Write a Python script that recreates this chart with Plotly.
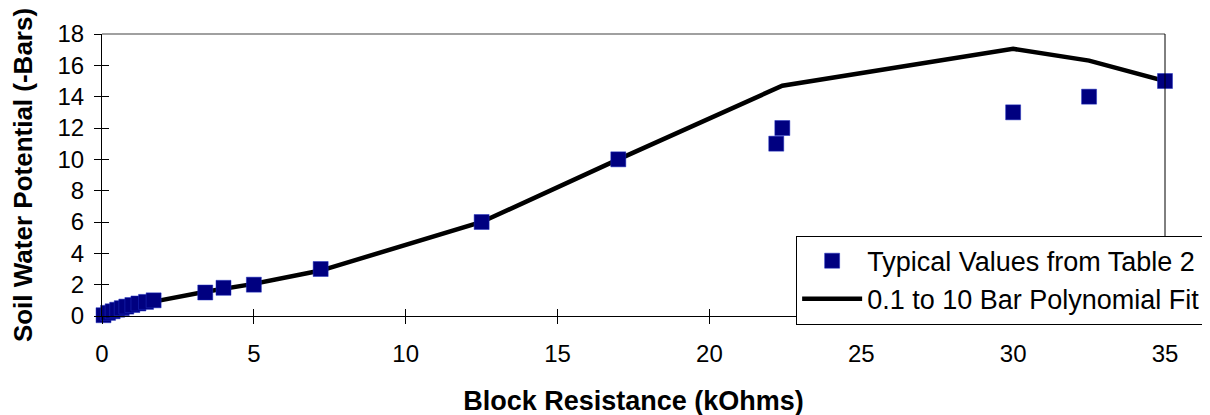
import plotly.graph_objects as go

# Data
pts_x = [0.05, 0.2, 0.35, 0.5, 0.65, 0.8, 1.0, 1.2, 1.45, 1.7, 3.4, 4.0, 5.0, 7.2, 12.5, 17.0, 22.2, 22.4, 30.0, 32.5, 35.0]
pts_y = [0.05, 0.2, 0.3, 0.4, 0.5, 0.6, 0.7, 0.8, 0.9, 1.0, 1.5, 1.8, 2.0, 3.0, 6.0, 10.0, 11.0, 12.0, 13.0, 14.0, 15.0]

fit_x = [0.05, 0.2, 0.35, 0.5, 0.65, 0.8, 1.0, 1.2, 1.45, 1.7, 3.4, 4.0, 5.0, 7.2, 12.5, 17.0, 22.2, 22.4, 30.0, 32.5, 35.0]
fit_y = [0.12, 0.22, 0.3, 0.38, 0.46, 0.54, 0.63, 0.72, 0.82, 0.92, 1.55, 1.75, 2.05, 2.9, 6.0, 10.0, 14.5, 14.7, 17.05, 16.3, 15.0]

x_ticks = [0, 5, 10, 15, 20, 25, 30, 35]
y_ticks = [0, 2, 4, 6, 8, 10, 12, 14, 16, 18]

FONT = "Liberation Sans, Arial, sans-serif"

fig = go.Figure()
fig.add_trace(go.Scatter(
    x=fit_x, y=fit_y, mode="lines", name="0.1 to 10 Bar Polynomial Fit",
    line=dict(color="black", width=4.5), showlegend=False, cliponaxis=False))
fig.add_trace(go.Scatter(
    x=pts_x, y=pts_y, mode="markers", name="Typical Values from Table 2",
    cliponaxis=False,
    marker=dict(symbol="square", size=15, color="#000080",
                line=dict(color="#2030c0", width=0.5))))
# legend entry for the fit line (listed after the markers)
fig.add_trace(go.Scatter(
    x=[None], y=[None], mode="lines", name="0.1 to 10 Bar Polynomial Fit",
    line=dict(color="black", width=4.5)))
# invisible trace that carries the inner-tick overlay axes
fig.add_trace(go.Scatter(x=[0], y=[0], xaxis="x2", yaxis="y2", mode="markers",
                         marker=dict(opacity=0), showlegend=False, hoverinfo="skip"))

axis_common = dict(showgrid=False, zeroline=False, ticklen=7, tickwidth=1,
                   tickcolor="black")
fig.update_layout(
    width=1210, height=415,
    margin=dict(l=92, r=50, t=23, b=107),
    paper_bgcolor="white", plot_bgcolor="white",
    font=dict(family=FONT, size=24, color="black"),
    xaxis=dict(range=[0, 35], tickvals=x_ticks, ticks="outside",
               showline=True, linecolor="black", linewidth=1, ticklabelstandoff=9,
               title=dict(text="<b>Block Resistance (kOhms)</b>", font=dict(size=27), standoff=25),
               tickfont=dict(size=24), **axis_common),
    yaxis=dict(range=[0, 18], tickvals=y_ticks, ticks="outside",
               showline=True, linecolor="black", linewidth=1, ticklabelstandoff=5,
               title=dict(text="<b>Soil Water Potential (-Bars)</b>", font=dict(size=26), standoff=19),
               tickfont=dict(size=24), **axis_common),
    xaxis2=dict(range=[0, 35], tickvals=x_ticks, ticks="inside", overlaying="x",
                anchor="y", showticklabels=False, showline=False, **axis_common),
    yaxis2=dict(range=[0, 18], tickvals=y_ticks, ticks="inside", overlaying="y",
                anchor="x", showticklabels=False, showline=False, **axis_common),
    legend=dict(x=0.653, y=0.285, xanchor="left", yanchor="top",
                bgcolor="white", bordercolor="black", borderwidth=1,
                font=dict(size=27), tracegroupgap=0, itemwidth=60),
    showlegend=True,
)
# top border (gray), right border (black) and the x-axis line running past 35
fig.add_shape(type="line", xref="paper", yref="paper", x0=0, x1=1, y0=1, y1=1,
              line=dict(color="#808080", width=1.5))
fig.add_shape(type="line", xref="paper", yref="paper", x0=1, x1=1, y0=0, y1=1,
              line=dict(color="black", width=1))
fig.add_shape(type="line", xref="paper", yref="paper", x0=1, x1=1.037, y0=0, y1=0,
              line=dict(color="black", width=1))

fig.write_html("out.html")
